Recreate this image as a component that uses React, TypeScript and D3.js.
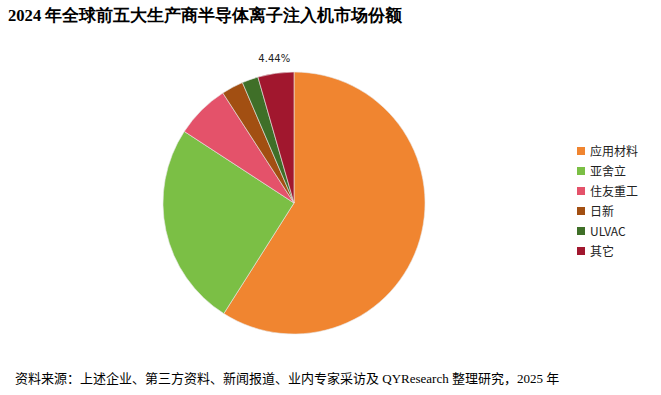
import React from "react";
import * as d3 from "d3";

const categories = ["应用材料", "亚舍立", "住友重工", "日新", "ULVAC", "其它"];
const shares = [59.0, 25.2, 6.66, 2.7, 2.0, 4.44];
const colors = ["#F08530", "#7BBF45", "#E4526A", "#A24F12", "#3F6F28", "#A1172E"];
const title = "2024 年全球前五大生产商半导体离子注入机市场份额";
const source = "资料来源：上述企业、第三方资料、新闻报道、业内专家采访及 QYResearch 整理研究，2025 年";

export default function App() {
  const W = 661, H = 395;
  const cx = 294, cy = 203, r = 131;
  const data = categories.map((c, i) => ({ c, v: shares[i], col: colors[i] }));
  const pie = d3.pie<any>().value((d) => d.v).sort(null);
  const arcs = pie(data);
  const arc = d3.arc<any>().innerRadius(0).outerRadius(r);
  const last = arcs[arcs.length - 1];
  const mid = (last.startAngle + last.endAngle) / 2;
  const lr = r + 11;
  const lx = cx + Math.sin(mid) * lr;
  const ly = cy - Math.cos(mid) * lr;
  return (
    <svg width={W} height={H} style={{ position: "absolute", left: 0, top: 0, background: "#fff" }}>
      <text x={8} y={21} fontFamily="'Liberation Serif', serif" fontWeight="bold" fontSize={16.6} fill="#000">
        {title}
      </text>
      <g transform={`translate(${cx},${cy})`}>
        {arcs.map((a, i) => (
          <path key={i} d={arc(a) as string} fill={a.data.col} stroke="#e8e8e8" strokeWidth={0.6} />
        ))}
      </g>
      <text x={lx} y={ly} textAnchor="middle" fontFamily="'DejaVu Sans', sans-serif" fontSize={10} fill="#222">
        {last.data.v.toFixed(2)}%
      </text>
      {data.map((d, i) => (
        <g key={i} transform={`translate(577,${151 + i * 20})`}>
          <rect x={0} y={-4} width={8} height={8} fill={d.col} />
          <text x={13} y={4.5} fontFamily="'Noto Sans CJK SC', 'DejaVu Sans', sans-serif" fontSize={12} fill="#222">
            {d.c}
          </text>
        </g>
      ))}
      <text x={15} y={383} fontFamily="'Liberation Serif', 'Noto Sans CJK SC', serif" fontSize={13} fill="#000">
        {source}
      </text>
    </svg>
  );
}
